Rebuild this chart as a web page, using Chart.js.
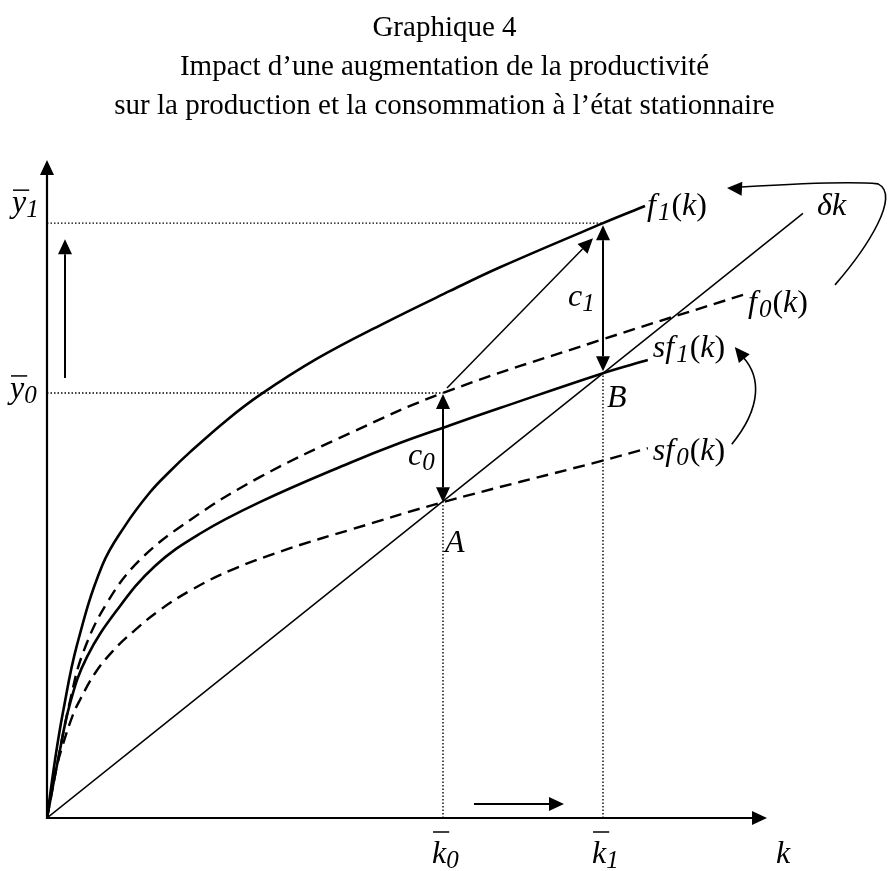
<!DOCTYPE html>
<html>
<head>
<meta charset="utf-8">
<script src="https://cdn.jsdelivr.net/npm/chart.js@4.4.0/dist/chart.umd.min.js"></script>
<style>
  html, body { margin: 0; padding: 0; background: #fff; }
  #wrap { position: relative; width: 889px; height: 871px; overflow: hidden; }
  #titles { position: absolute; left: 0; top: 7px; width: 889px; text-align: center;
            font-family: "Liberation Serif", "Times New Roman", serif; font-size: 29px; line-height: 39px; color: #000; }
  canvas { position: absolute; left: 0; top: 0; }
</style>
</head>
<body>
<div id="wrap">
  <canvas id="solow" width="889" height="871"></canvas>
  <div id="titles">
    <div>Graphique 4</div>
    <div>Impact d’une augmentation de la productivité</div>
    <div>sur la production et la consommation à l’état stationnaire</div>
  </div>
</div>
<script>
// capital per worker (k) and output values for each curve
const f1K  = [0, 0.10, 0.20, 0.375, 0.6875, 0.975, 1.2875, 1.5375, 1.7875, 2.25, 2.6625, 3.375, 4.2, 5.0375, 5.6625, 6.95, 7.475];
const f1Y  = [0, 0.88, 1.61, 2.63, 3.83, 4.44, 4.95, 5.27, 5.56, 6.05, 6.43, 6.98, 7.51, 8.01, 8.37, 9.04, 9.30];
const f0K  = [0, 0.1375, 0.29, 0.45, 0.75, 1.16, 1.79, 2.66, 3.79, 4.95, 6.91, 8.7];
const f0Y  = [0, 0.88, 1.79, 2.51, 3.27, 3.92, 4.53, 5.18, 5.85, 6.46, 7.26, 7.95];
const sf1K = [0, 0.1375, 0.29, 0.5, 0.875, 1.35, 1.91, 2.66, 3.79, 4.41, 5.04, 5.66, 6.95, 7.51];
const sf1Y = [0, 0.88, 1.75, 2.45, 3.16, 3.83, 4.32, 4.80, 5.40, 5.70, 5.97, 6.23, 6.76, 6.96];
const sf0K = [0, 0.0875, 0.19, 0.325, 0.41, 0.6, 0.825, 1.075, 1.41, 1.825, 2.325, 3.04, 3.79, 4.95, 6.91, 7.51];
const sf0Y = [0, 0.61, 1.08, 1.57, 1.79, 2.20, 2.54, 2.83, 3.16, 3.48, 3.78, 4.10, 4.38, 4.80, 5.42, 5.62];
const depK = [0, 9.45];
const depY = [0, 9.19];

// steady states
const k0 = 4.95, k1 = 6.95;
const y0 = 6.46, y1 = 9.04;
const sA = 4.80, sB = 6.76;

const kAxisMax = 9.0, yAxisMax = 10;

const pts = (ks, ys) => ks.map((k, i) => ({ x: k, y: ys[i] }));

const SERIF = '"Liberation Serif", "Times New Roman", serif';
const F_IT = 'italic 32px ' + SERIF;
const F_UP = '32px ' + SERIF;
const F_SUB = 'italic 25px ' + SERIF;

function curve(data, dashed, width) {
  return {
    data, borderColor: '#000', borderWidth: width, pointRadius: 0,
    borderDash: dashed ? [12, 7] : [], tension: 0.4,
    fill: false, order: 1
  };
}
function guide(data) {
  return { data, borderColor: '#000', borderWidth: 1.4, borderDash: [1.5, 2], pointRadius: 0, fill: false, order: 2 };
}

function head(ctx, tx, ty, ang, len = 15, half = 7) {
  const bx = tx - len * Math.cos(ang), by = ty - len * Math.sin(ang);
  ctx.beginPath();
  ctx.moveTo(tx, ty);
  ctx.lineTo(bx + half * Math.sin(ang), by - half * Math.cos(ang));
  ctx.lineTo(bx - half * Math.sin(ang), by + half * Math.cos(ang));
  ctx.closePath();
  ctx.fill();
}

function arrow(ctx, x0, y0_, x1, y1_, both, width) {
  const ang = Math.atan2(y1_ - y0_, x1 - x0);
  const len = 15;
  ctx.lineWidth = width;
  ctx.beginPath();
  ctx.moveTo(both ? x0 + len * Math.cos(ang) : x0, both ? y0_ + len * Math.sin(ang) : y0_);
  ctx.lineTo(x1 - len * Math.cos(ang), y1_ - len * Math.sin(ang));
  ctx.stroke();
  head(ctx, x1, y1_, ang);
  if (both) head(ctx, x0, y0_, ang + Math.PI);
}

// text made of runs: [text, font, dy, gapAfter]
function runs(ctx, x, y, list) {
  for (const [t, f, dy, gap] of list) {
    ctx.font = f;
    ctx.fillText(t, x, y + (dy || 0));
    x += ctx.measureText(t).width + (gap || 0);
  }
}
function fnLabel(ctx, x, y, pre, sub) {
  runs(ctx, x, y, [[pre, F_IT, 0, 2], [sub, F_SUB, 5, 1], ['(', F_UP], ['k', F_IT], [')', F_UP]]);
}
function barLabel(ctx, x, y, ch, sub, lift) {
  ctx.font = F_IT;
  const w = ctx.measureText(ch).width;
  ctx.lineWidth = 1.5;
  ctx.beginPath();
  ctx.moveTo(x + 1, y - lift);
  ctx.lineTo(x + w + 3, y - lift);
  ctx.stroke();
  runs(ctx, x, y, [[ch, F_IT], [sub, F_SUB, 5]]);
}

const notes = {
  id: 'notes',
  afterDatasetsDraw(chart) {
    const { ctx, scales: { x, y } } = chart;
    const P = (k, v) => [x.getPixelForValue(k), y.getPixelForValue(v)];
    const [ox, oy] = P(0, 0);
    const [k0x] = P(k0, 0), [k1x] = P(k1, 0);
    const [, y0y] = P(0, y0), [, y1y] = P(0, y1);
    const [, Ay] = P(k0, sA), [, By] = P(k1, sB);
    const f1End = P(f1K[f1K.length - 1], f1Y[f1Y.length - 1]);
    const f0End = P(f0K[f0K.length - 1], f0Y[f0Y.length - 1]);
    const sf1End = P(sf1K[sf1K.length - 1], sf1Y[sf1Y.length - 1]);
    const sf0End = P(sf0K[sf0K.length - 1], sf0Y[sf0Y.length - 1]);
    const depEnd = P(depK[1], depY[1]);

    ctx.save();
    ctx.fillStyle = '#000';
    ctx.strokeStyle = '#000';
    ctx.lineCap = 'butt';

    // axes
    const [, yTop] = P(0, yAxisMax);
    const [xEnd] = P(kAxisMax, 0);
    arrow(ctx, ox, oy + 1, ox, yTop, false, 2.2);
    arrow(ctx, ox - 1, oy, xEnd, oy, false, 2.2);

    // shifts of output and capital
    arrow(ctx, ox + 18, y0y - 15, ox + 18, y1y + 16, false, 2);
    arrow(ctx, k0x + 31, oy - 14, k1x - 39, oy - 14, false, 2);

    // consumption gaps
    arrow(ctx, k0x, y0y + 1, k0x, Ay, true, 2);
    arrow(ctx, k1x, y1y + 2, k1x, By - 2, true, 2);

    // move from f0 to f1 at new steady state
    arrow(ctx, k0x + 4, y0y - 5, k1x - 10, y1y + 15, false, 1.5);

    // curved arrows between labels
    ctx.lineWidth = 1.6;
    ctx.beginPath();
    ctx.moveTo(f0End[0] + 92, f0End[1] - 10);
    ctx.bezierCurveTo(f0End[0] + 125, f0End[1] - 48, f0End[0] + 158, f0End[1] - 100, f0End[0] + 135, f0End[1] - 111);
    ctx.bezierCurveTo(f1End[0] + 205, f1End[1] - 25, f1End[0] + 145, f1End[1] - 22, f1End[0] + 96, f1End[1] - 19);
    ctx.stroke();
    head(ctx, f1End[0] + 82, f1End[1] - 18, Math.PI + 0.05);

    ctx.beginPath();
    ctx.moveTo(sf0End[0] + 84, sf0End[1] - 4);
    ctx.bezierCurveTo(sf0End[0] + 115, sf0End[1] - 42, sf0End[0] + 112, sf0End[1] - 72, sf1End[0] + 96, sf1End[1] - 2);
    ctx.stroke();
    head(ctx, sf1End[0] + 87, sf1End[1] - 13, Math.atan2(-11, -9));

    // labels
    ctx.textBaseline = 'alphabetic';
    fnLabel(ctx, f1End[0] + 2, f1End[1] + 9, 'f', '1');
    fnLabel(ctx, f0End[0] + 5, f0End[1] + 17, 'f', '0');
    fnLabel(ctx, sf1End[0] + 5, sf1End[1] - 3, 'sf', '1');
    fnLabel(ctx, sf0End[0] + 5, sf0End[1] + 12, 'sf', '0');
    runs(ctx, depEnd[0] + 14, depEnd[1] + 2, [['δk', F_IT]]);
    runs(ctx, k1x - 35, y1y + 83, [['c', F_IT], ['1', F_SUB, 5]]);
    runs(ctx, k0x - 35, Ay - 37, [['c', F_IT], ['0', F_SUB, 5]]);
    runs(ctx, k1x + 4, By + 34, [['B', F_IT]]);
    runs(ctx, k0x + 2, Ay + 50, [['A', F_IT]]);
    barLabel(ctx, ox - 35, y1y - 11, 'y', '1', 22);
    barLabel(ctx, ox - 37, y0y + 5, 'y', '0', 22);
    barLabel(ctx, k0x - 11, oy + 45, 'k', '0', 31);
    barLabel(ctx, k1x - 11, oy + 45, 'k', '1', 31);
    runs(ctx, xEnd + 9, oy + 45, [['k', F_IT]]);
    ctx.restore();
  }
};

new Chart(document.getElementById('solow'), {
  type: 'scatter',
  data: {
    datasets: [
      curve(pts(f1K, f1Y), false, 2.6),
      curve(pts(f0K, f0Y), true, 2.4),
      curve(pts(sf1K, sf1Y), false, 2.6),
      curve(pts(sf0K, sf0Y), true, 2.4),
      curve(pts(depK, depY), false, 1.5),
      guide([{ x: 0, y: y1 }, { x: k1, y: y1 }]),
      guide([{ x: 0, y: y0 }, { x: k0, y: y0 }]),
      guide([{ x: k0, y: 0 }, { x: k0, y: sA }]),
      guide([{ x: k1, y: 0 }, { x: k1, y: sB }])
    ].map(d => Object.assign(d, { showLine: true }))
  },
  options: {
    responsive: false,
    animation: false,
    layout: { padding: { left: 47, top: 160, right: 42, bottom: 53 } },
    scales: {
      x: { type: 'linear', min: 0, max: 10, display: false },
      y: { type: 'linear', min: 0, max: yAxisMax, display: false }
    },
    plugins: { legend: { display: false }, tooltip: { enabled: false } }
  },
  plugins: [notes]
});
</script>
</body>
</html>
